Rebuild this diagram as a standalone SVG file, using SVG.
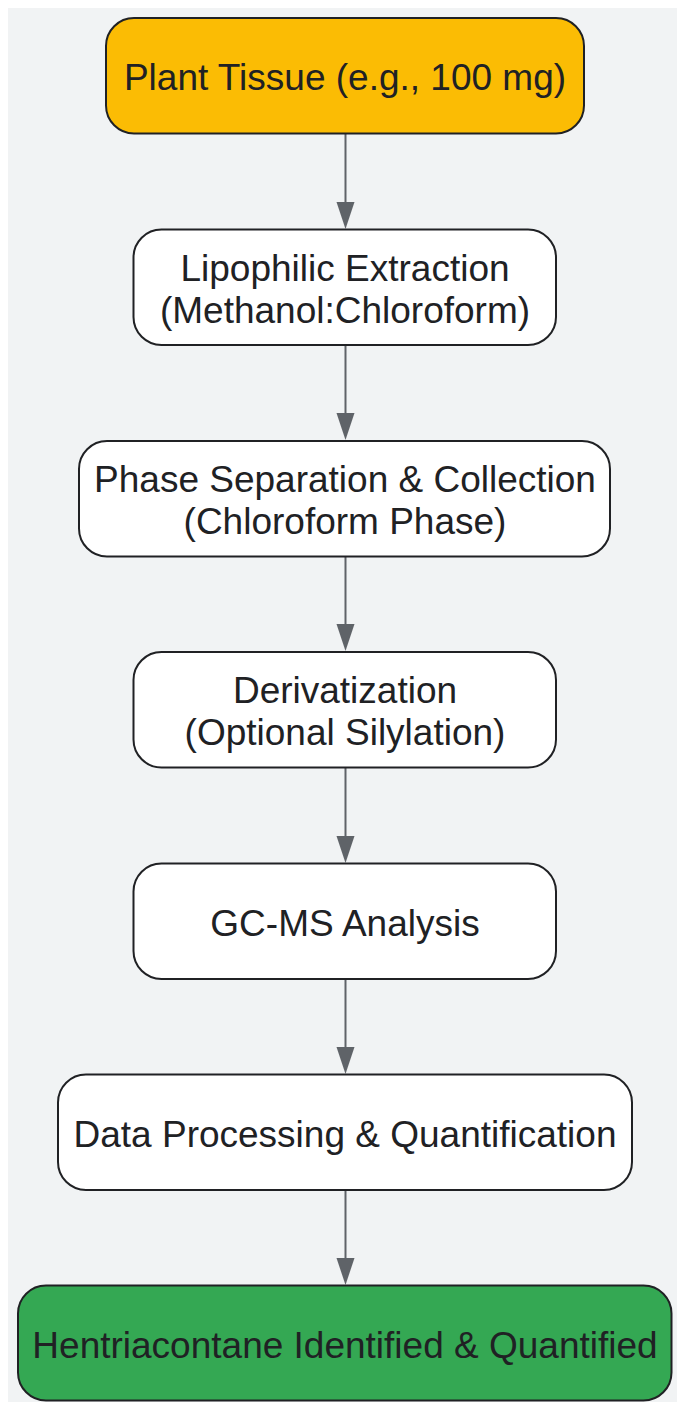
<svg xmlns="http://www.w3.org/2000/svg" width="677" height="1402" viewBox="0 0 677 1402">
<defs>
<style>
.node{stroke:#202124;stroke-width:2;}
.w{fill:#FFFFFF;}
.y{fill:#FBBC04;}
.g{fill:#34A853;}
text{font-family:"Liberation Sans",Arial,sans-serif;font-size:37px;fill:#202124;text-anchor:middle;}
.edge{stroke:#5F6368;stroke-width:2;fill:none;}
</style>
<marker id="ah" markerWidth="18" markerHeight="27" refX="9" refY="27" orient="auto" markerUnits="userSpaceOnUse" viewBox="0 0 18 27">
<path d="M0,0 L18,0 L9,27 Z" fill="#5F6368"/>
</marker>
</defs>
<rect x="0" y="0" width="677" height="1402" fill="#FFFFFF"/>
<rect x="8" y="8" width="669" height="1394" fill="#F1F3F4"/>
<g id="connectors">
<path class="edge" d="M345.5,134 V202"/><path d="M336.5,202 L354.5,202 L345.5,229 Z" fill="#5F6368"/>
<path class="edge" d="M345.5,345 V413"/><path d="M336.5,413 L354.5,413 L345.5,440 Z" fill="#5F6368"/>
<path class="edge" d="M345.5,557 V624"/><path d="M336.5,624 L354.5,624 L345.5,651 Z" fill="#5F6368"/>
<path class="edge" d="M345.5,768 V836"/><path d="M336.5,836 L354.5,836 L345.5,863 Z" fill="#5F6368"/>
<path class="edge" d="M345.5,979 V1047"/><path d="M336.5,1047 L354.5,1047 L345.5,1074 Z" fill="#5F6368"/>
<path class="edge" d="M345.5,1190 V1258"/><path d="M336.5,1258 L354.5,1258 L345.5,1285 Z" fill="#5F6368"/>
</g>
<g id="n1">
<rect class="node y" x="106" y="18" width="478" height="115.5" rx="28"/>
<text x="345" y="90">Plant Tissue (e.g., 100 mg)</text>
</g>
<g id="n2">
<rect class="node w" x="133.5" y="229.5" width="422.5" height="115.5" rx="28"/>
<text x="345" y="281">Lipophilic Extraction</text>
<text x="345" y="323">(Methanol:Chloroform)</text>
</g>
<g id="n3">
<rect class="node w" x="79" y="441" width="531" height="115.5" rx="28"/>
<text x="345" y="492">Phase Separation &amp; Collection</text>
<text x="345" y="534">(Chloroform Phase)</text>
</g>
<g id="n4">
<rect class="node w" x="133.5" y="652" width="422.5" height="115.5" rx="28"/>
<text x="345" y="703">Derivatization</text>
<text x="345" y="745">(Optional Silylation)</text>
</g>
<g id="n5">
<rect class="node w" x="133.5" y="863.5" width="422.5" height="115.5" rx="28"/>
<text x="345" y="935.5">GC-MS Analysis</text>
</g>
<g id="n6">
<rect class="node w" x="58" y="1074.5" width="574" height="115.5" rx="28"/>
<text x="345" y="1146.5">Data Processing &amp; Quantification</text>
</g>
<g id="n7">
<rect class="node g" x="18" y="1285.5" width="653.5" height="115" rx="28"/>
<text x="345" y="1357.5">Hentriacontane Identified &amp; Quantified</text>
</g>
</svg>
